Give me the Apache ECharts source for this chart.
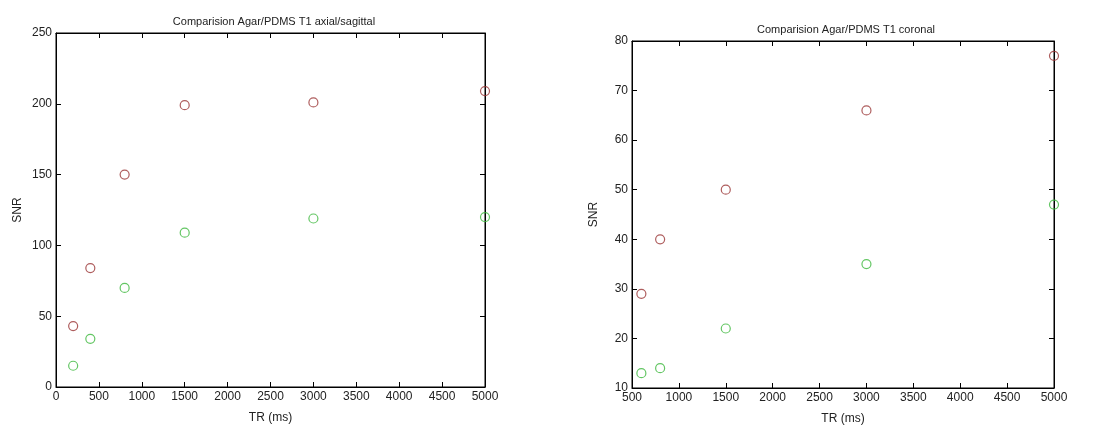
<!DOCTYPE html>
<html>
<head>
<meta charset="utf-8">
<script src="https://cdn.jsdelivr.net/npm/echarts@6/dist/echarts.min.js"></script>
<style>
  html, body { margin: 0; padding: 0; background: #fff; }
  #main { width: 1096px; height: 427px; }
</style>
</head>
<body>
<div id="main"></div>
<script>
// left chart: axial/sagittal
var trAxial = [200, 400, 800, 1500, 3000, 5000];
var agarAxial = [43, 84, 150, 199, 201, 209];
var pdmsAxial = [15, 34, 70, 109, 119, 120];
// right chart: coronal
var trCoronal = [600, 800, 1500, 3000, 5000];
var agarCoronal = [29, 40, 50, 66, 77];
var pdmsCoronal = [13, 14, 22, 35, 47];

var titles = ['Comparision Agar/PDMS T1 axial/sagittal', 'Comparision Agar/PDMS T1 coronal'];

function pairs(xs, ys) {
    var out = [];
    for (var i = 0; i < xs.length; i++) out.push([xs[i], ys[i]]);
    return out;
}

var txt = { color: '#222', fontFamily: 'Liberation Sans, Arial', fontSize: 12 };
var axisLine = { show: true, onZero: false, lineStyle: { color: '#000', width: 1 } };
var tick = { show: true, inside: true, length: 5, lineStyle: { color: '#000' } };

function xAxisMain(grid, min, max) {
    return {
        type: 'value', gridIndex: grid, min: min, max: max, interval: 500,
        name: 'TR (ms)', nameLocation: 'middle', nameGap: 25, nameTextStyle: txt,
        axisLine: axisLine, axisTick: tick, splitLine: { show: false },
        axisLabel: Object.assign({ margin: 4, showMinLabel: true, showMaxLabel: true,
            formatter: function (v) { return String(v); } }, txt)
    };
}
function yAxisMain(grid, min, max, interval) {
    return {
        type: 'value', gridIndex: grid, min: min, max: max, interval: interval,
        name: 'SNR', nameLocation: 'middle', nameGap: 32, nameTextStyle: txt,
        axisLine: axisLine, axisTick: tick, splitLine: { show: false },
        axisLabel: Object.assign({ margin: 4 }, txt)
    };
}
function mirror(axis, pos) {
    var a = Object.assign({}, axis);
    a.position = pos;
    a.name = '';
    a.axisLabel = { show: false };
    return a;
}

var xL = xAxisMain(0, 0, 5000);
var xR = xAxisMain(1, 500, 5000);
var yL = yAxisMain(0, 0, 250, 50);
var yR = yAxisMain(1, 10, 80, 10);

var red = '#9a3434';
var green = '#3cb83c';

function scatter(xi, yi, data, color) {
    return {
        type: 'scatter', xAxisIndex: xi, yAxisIndex: yi, data: data,
        symbol: 'circle', symbolSize: 9,
        itemStyle: { color: 'rgba(0,0,0,0)', borderColor: color, borderWidth: 1.2 },
        silent: true
    };
}

var myChart = echarts.init(document.getElementById('main'));
var option = {
    backgroundColor: '#fff',
    animation: false,
    title: [
        { text: titles[0], left: 269, top: 11, textAlign: 'center',
          textStyle: { color: '#222', fontFamily: 'Liberation Sans, Arial', fontSize: 11, fontWeight: 'normal' } },
        { text: titles[1], left: 841, top: 19, textAlign: 'center',
          textStyle: { color: '#222', fontFamily: 'Liberation Sans, Arial', fontSize: 11, fontWeight: 'normal' } }
    ],
    grid: [
        { left: 56, right: 611, top: 33, bottom: 40, show: true, borderColor: '#000', borderWidth: 1,
          outerBoundsMode: 'none', containLabel: false },
        { left: 632, right: 42, top: 41, bottom: 39, show: true, borderColor: '#000', borderWidth: 1,
          outerBoundsMode: 'none', containLabel: false }
    ],
    xAxis: [xL, xR, mirror(xL, 'top'), mirror(xR, 'top')],
    yAxis: [yL, yR, mirror(yL, 'right'), mirror(yR, 'right')],
    series: [
        scatter(0, 0, pairs(trAxial, agarAxial), red),
        scatter(0, 0, pairs(trAxial, pdmsAxial), green),
        scatter(1, 1, pairs(trCoronal, agarCoronal), red),
        scatter(1, 1, pairs(trCoronal, pdmsCoronal), green)
    ]
};
myChart.setOption(option);
</script>
</body>
</html>
